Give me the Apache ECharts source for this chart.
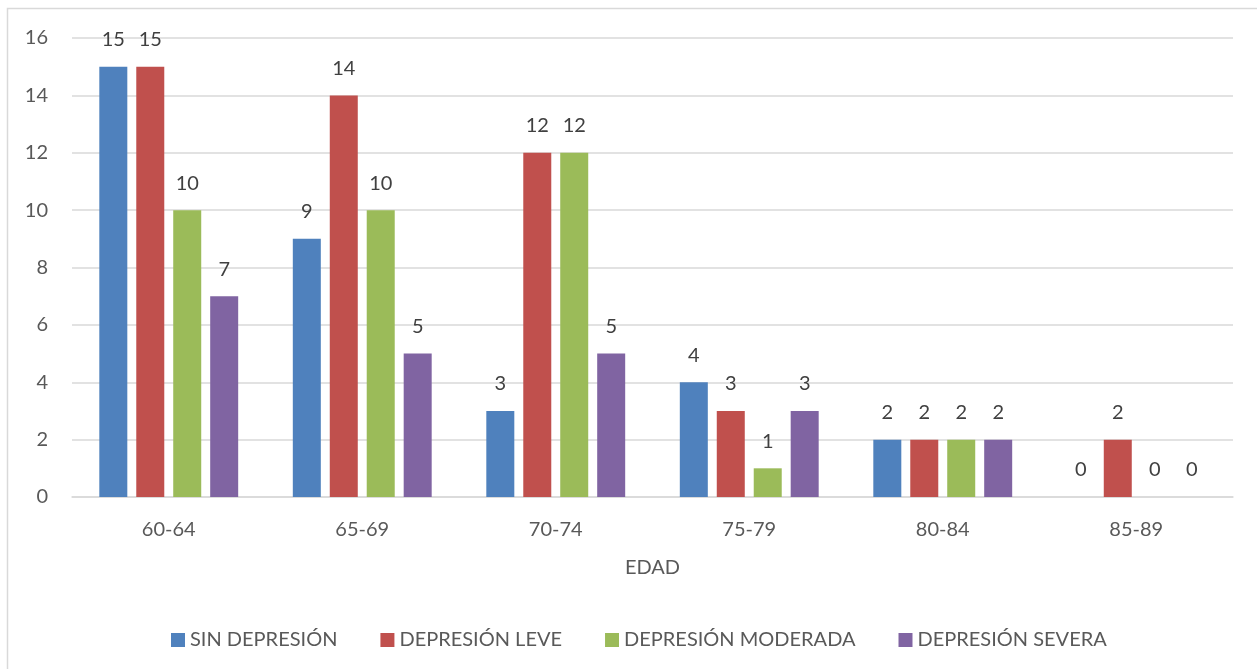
<!DOCTYPE html>
<html>
<head>
<meta charset="utf-8">
<script src="https://cdn.jsdelivr.net/npm/echarts@6/dist/echarts.min.js"></script>
<style>
  html, body { margin: 0; padding: 0; background: #fff; }
  #chart { width: 1257px; height: 669px; }
</style>
</head>
<body>
<div id="chart"></div>
<script>
// Age groups and counts per depression level
const categories = ['60-64', '65-69', '70-74', '75-79', '80-84', '85-89'];
const sinDepresion = [15, 9, 3, 4, 2, 0];
const depresionLeve = [15, 14, 12, 3, 2, 2];
const depresionModerada = [10, 10, 12, 1, 2, 0];
const depresionSevera = [7, 5, 5, 3, 2, 0];
const seriesNames = ['SIN DEPRESIÓN', 'DEPRESIÓN LEVE', 'DEPRESIÓN MODERADA', 'DEPRESIÓN SEVERA'];
const yTicks = { min: 0, max: 16, interval: 2 };

const colors = ['#4F81BD', '#C0504D', '#9BBB59', '#8064A2'];
const font = 'Lato, "Open Sans", sans-serif';
const textColor = '#595959';
const fontSize = 20;

function barSeries(name, data, color) {
  return {
    name: name,
    type: 'bar',
    data: data,
    barWidth: 28,
    barGap: '32%',
    itemStyle: { color: color },
    label: {
      show: true,
      position: 'top',
      distance: 17,
      color: '#404040',
      fontFamily: font,
      fontSize: fontSize
    }
  };
}

const chart = echarts.init(document.getElementById('chart'), null, { renderer: 'canvas' });
chart.setOption({
  animation: false,
  backgroundColor: '#ffffff',
  color: colors,
  graphic: [{
    type: 'rect',
    shape: { x: 7.5, y: 8.5, width: 1270, height: 680 },
    style: { fill: 'none', stroke: '#d9d9d9', lineWidth: 1.5 },
    silent: true
  }],
  grid: { left: 72, right: 24, top: 38, bottom: 172 },
  legend: {
    left: 166,
    top: 625,
    itemWidth: 14,
    itemHeight: 14,
    itemGap: 43,
    icon: 'rect',
    textStyle: { color: textColor, fontFamily: font, fontSize: fontSize },
    data: seriesNames
  },
  xAxis: {
    type: 'category',
    data: categories,
    name: 'EDAD',
    nameLocation: 'middle',
    nameGap: 61,
    nameTextStyle: { color: textColor, fontFamily: font, fontSize: fontSize },
    axisLine: { lineStyle: { color: '#d9d9d9', width: 1.5 } },
    axisTick: { show: false },
    axisLabel: { color: textColor, fontFamily: font, fontSize: fontSize, margin: 23 }
  },
  yAxis: {
    type: 'value',
    min: yTicks.min,
    max: yTicks.max,
    interval: yTicks.interval,
    axisLine: { show: false },
    axisTick: { show: false },
    splitLine: { lineStyle: { color: '#d9d9d9', width: 1.5 } },
    axisLabel: { color: textColor, fontFamily: font, fontSize: fontSize, margin: 24 }
  },
  series: [
    barSeries(seriesNames[0], sinDepresion, colors[0]),
    barSeries(seriesNames[1], depresionLeve, colors[1]),
    barSeries(seriesNames[2], depresionModerada, colors[2]),
    barSeries(seriesNames[3], depresionSevera, colors[3])
  ]
});
</script>
</body>
</html>
